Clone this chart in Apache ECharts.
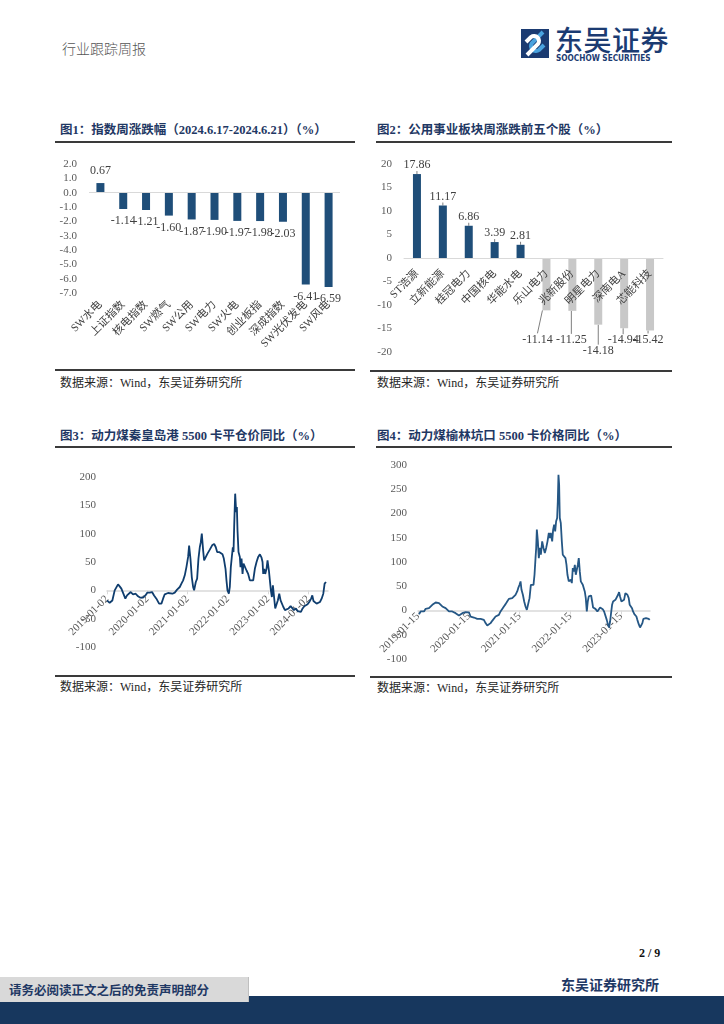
<!DOCTYPE html>
<html><head><meta charset="utf-8">
<script src="https://cdn.jsdelivr.net/npm/echarts@6/dist/echarts.min.js"></script>
<style>
body{margin:0;width:724px;height:1024px;position:relative;background:#fff;overflow:hidden;font-family:"Liberation Serif","Noto Sans CJK SC",serif;}
.abs{position:absolute;white-space:nowrap;}
.title{position:absolute;font-weight:bold;color:#1f3864;font-size:12.5px;white-space:nowrap;line-height:14px;}
.rule{position:absolute;height:2px;background:#3a3a3a;}
.src{position:absolute;font-size:12px;color:#262626;white-space:nowrap;line-height:14px;}
.chart{position:absolute;}
</style></head><body>
<script>
// ---------- data ----------
var cats1 = ['SW水电','上证指数','核电指数','SW燃气','SW公用','SW电力','SW火电','创业板指','深成指数','SW光伏发电','SW风电'];
var vals1 = [0.67,-1.14,-1.21,-1.60,-1.87,-1.90,-1.97,-1.98,-2.03,-6.41,-6.59];

var cats2 = ['ST浩源','立新能源','桂冠电力','中国核电','华能水电','乐山电力','兆新股份','明星电力','深南电A','芯能科技'];
var vals2 = [17.86,11.17,6.86,3.39,2.81,-11.14,-11.25,-14.18,-14.94,-15.42];

var ticks3 = ['2019-01-02','2020-01-02','2021-01-02','2022-01-02','2023-01-02','2024-01-02'];
var yr3 = [2019.000,2019.066,2019.133,2019.191,2019.232,2019.274,2019.315,2019.357,2019.398,2019.456,2019.498,2019.547,2019.589,2019.647,2019.713,2019.771,2019.829,2019.896,2019.954,
2020.003,2020.061,2020.119,2020.169,2020.227,2020.294,2020.352,2020.393,2020.434,2020.476,2020.517,2020.559,2020.625,2020.683,2020.741,2020.808,2020.849,2020.891,2020.932,2020.973,
2021.015,2021.040,2021.073,2021.106,2021.139,2021.164,2021.206,2021.239,2021.272,2021.305,2021.330,2021.355,2021.388,2021.413,2021.454,2021.496,2021.554,2021.612,2021.662,2021.703,2021.736,2021.786,2021.828,2021.869,2021.902,2021.944,2021.968,2021.993,
2022.027,2022.051,2022.076,2022.101,2022.126,2022.143,2022.159,2022.184,2022.209,2022.226,2022.242,2022.267,2022.300,2022.317,2022.342,2022.367,2022.391,2022.425,2022.466,2022.507,2022.549,2022.590,2022.632,2022.673,2022.715,2022.756,2022.798,2022.839,2022.864,2022.881,2022.905,2022.930,2022.963,2022.988,
2023.022,2023.046,2023.071,2023.096,2023.121,2023.146,2023.179,2023.212,2023.245,2023.279,2023.312,2023.345,2023.378,2023.420,2023.461,2023.511,2023.561,2023.602,2023.643,2023.693,2023.735,2023.776,2023.818,2023.859,2023.901,2023.942,2023.983,
2024.025,2024.071,2024.100,2024.129,2024.166,2024.207,2024.249,2024.290,2024.332,2024.373,2024.406,2024.440];
var val3 = [-17.6,-22,-18,0,3,10.6,7,3,0,-14.7,-9,-9,-3,-7,-6,-10.6,-13,-13,-9,
-4,-4,-3,-9,-14.7,-23.5,-23.5,-14.7,-7,-4.7,-4.7,-1.8,-6,-4,1.2,5.9,11.8,17.6,26.5,41,
59,79,56,23.5,5.9,0,14.7,20.6,56,76,85,100,70.6,53,56,64.7,71.8,79.4,82,76,67.6,67.6,64.7,63.5,56,38,17.6,0,
-6,5.9,41,59,76,67.6,112,170.6,138,147,106,67.6,59,41,56,29,47,44,35,29,17.6,14.7,17.6,38,50,59,63.5,57.6,50,29,38,29,38,53,
35,17.6,0,-11.8,8.8,-8.8,-32,-32,-17.6,-6,-17.6,-14.7,-29,-35,-35,-32,-28,-30.6,-35,-32,-36.5,-34,-38,-32,-28,-26.5,-24.7,
-20.6,-14.7,-8.8,-18.8,-22,-23.5,-23.5,-20.6,-14.7,-6,11.8,14.7];

var ticks4 = ['2019-01-15','2020-01-15','2021-01-15','2022-01-15','2023-01-15'];
var yr4 = [2019.020,2019.052,2019.085,2019.118,2019.151,2019.184,2019.216,2019.249,2019.282,2019.315,2019.348,2019.380,2019.413,2019.446,2019.479,2019.511,2019.544,2019.577,2019.610,2019.643,2019.675,2019.708,2019.741,2019.774,2019.807,2019.839,2019.872,2019.905,2019.938,2019.970,
2020.003,2020.036,2020.069,2020.102,2020.134,2020.167,2020.200,2020.233,2020.266,2020.298,2020.331,2020.364,2020.397,2020.430,2020.462,2020.495,2020.528,2020.561,2020.593,2020.626,2020.659,2020.692,2020.725,2020.757,2020.790,2020.823,2020.856,2020.889,2020.921,2020.954,2020.974,
2021.000,2021.020,2021.039,2021.066,2021.092,2021.118,2021.144,2021.170,2021.197,2021.223,2021.249,2021.275,2021.295,2021.315,2021.328,2021.341,2021.361,2021.380,2021.400,2021.420,2021.446,2021.472,2021.498,2021.525,2021.551,2021.577,2021.597,2021.616,2021.643,2021.662,2021.682,2021.702,2021.721,2021.741,2021.754,2021.767,2021.780,2021.793,2021.813,2021.833,2021.852,2021.879,2021.905,2021.925,2021.944,2021.970,2021.990,
2022.010,2022.030,2022.049,2022.069,2022.089,2022.108,2022.128,2022.148,2022.167,2022.187,2022.207,2022.226,2022.246,2022.266,2022.285,2022.305,2022.325,2022.344,2022.364,2022.384,2022.410,2022.430,2022.449,2022.469,2022.495,2022.515,2022.534,2022.561,2022.587,2022.613,2022.639,2022.666,2022.692,2022.718,2022.744,2022.764,2022.784,2022.803,2022.823,2022.843,2022.869,2022.889,2022.915,2022.941,2022.961,2022.980,
2023.007,2023.033,2023.059,2023.085,2023.105,2023.125,2023.151,2023.170,2023.197,2023.216,2023.236,2023.262,2023.282,2023.302,2023.321,2023.348,2023.374,2023.400,2023.420,2023.439,2023.466,2023.492,2023.518,2023.544,2023.564];
var val4 = [-7.6,-2,-5.5,-2,3.4,6.2,4.8,8.3,11.7,13.1,16.5,17.2,15.2,11.7,8.3,6.2,4.8,1.4,-2,-5.5,-2,-4,-5.5,-9,-10.3,-7.6,-5.5,-2,-3.4,0.7,
-4,-12.4,-12.4,-14.5,-14.5,-17.2,-15.8,-17.2,-17.9,-19.3,-26,-31,-29.6,-26,-21.3,-17.2,-12.4,-12.4,-9,-2,1.4,8.3,13.1,18.6,24,25.5,25.5,29,32.4,39.3,46,
53,60,42.7,32.4,18.6,8.3,1.4,4.8,25.5,53,56.5,53,73.7,108,129,166.7,142.6,108,129,115,142.6,129,118.5,129,142.6,159.8,149.4,159.8,142.6,166.7,177,163,184,190.8,225,280,259.6,190.8,180,142.6,115,115,108,94,73.7,60,56.5,
63.4,56.5,87.5,80.6,94,73.7,84,94,108,80.6,60,63.4,53,53,39.3,25.5,-2,18.6,29,32.4,31,18.6,6.2,4.8,3.4,4.8,-2,1.4,6.2,4.8,2.8,-2,-5.5,-19.3,-29.6,-35,-22.7,-5.5,11.7,18.6,17.2,22,25.5,32.4,37.9,29,
18.6,17.2,22,35.8,39.3,32.4,25.5,11.7,8.3,4.8,-2,-7.6,-9,-12.4,-19.3,-28.2,-35,-35,-26,-17.2,-14.5,-15.8,-19.3,-17.2,-19.3];
</script>

<!-- header -->
<div class="abs" style="left:62px;top:38px;font-size:14px;color:#555;font-family:'Noto Sans CJK SC';font-weight:300;">行业跟踪周报</div>
<svg style="position:absolute;left:521px;top:29px" width="28" height="29" viewBox="0 0 28 29">
  <rect width="28" height="29" fill="#1b3b72"/>
  <path d="M22 3 L11 14 A5 5 0 0 0 18 21 L23 16" stroke="#4aa3df" stroke-width="4" fill="none"/>
  <path d="M6 26 L17 15 A5 5 0 0 0 10 8 L5 13" stroke="#ffffff" stroke-width="4" fill="none"/>
</svg>
<div class="abs" style="left:555px;top:23px;font-size:28px;line-height:32px;color:#1b3b72;font-family:'Noto Sans CJK SC';font-weight:500;letter-spacing:0.5px;">东吴证券</div>
<div class="abs" style="left:556px;top:53px;font-size:8.2px;line-height:10px;color:#1b3b72;font-family:'DejaVu Sans Condensed','DejaVu Sans';font-weight:bold;">SOOCHOW SECURITIES</div>

<!-- chart 1 -->
<div class="title" style="left:60px;top:123px;">图1：指数周涨跌幅（2024.6.17-2024.6.21）（%）</div>
<div class="rule" style="left:55px;top:141px;width:300px;"></div>
<div id="c1" class="chart" style="left:55px;top:150px;width:300px;height:218px;"></div>
<div class="rule" style="left:55px;top:369px;width:300px;"></div>
<div class="src" style="left:60px;top:376px;">数据来源：Wind，东吴证券研究所</div>

<!-- chart 2 -->
<div class="title" style="left:377px;top:123px;">图2：公用事业板块周涨跌前五个股（%）</div>
<div class="rule" style="left:376px;top:141px;width:296px;"></div>
<div id="c2" class="chart" style="left:370px;top:150px;width:302px;height:218px;"></div>
<div class="rule" style="left:370px;top:370px;width:302px;"></div>
<div class="src" style="left:377px;top:376px;">数据来源：Wind，东吴证券研究所</div>

<!-- chart 3 -->
<div class="title" style="left:60px;top:429px;">图3：动力煤秦皇岛港 5500 卡平仓价同比（%）</div>
<div class="rule" style="left:55px;top:446px;width:300px;"></div>
<div id="c3" class="chart" style="left:55px;top:455px;width:300px;height:218px;"></div>
<div class="rule" style="left:55px;top:675px;width:300px;"></div>
<div class="src" style="left:60px;top:680px;">数据来源：Wind，东吴证券研究所</div>

<!-- chart 4 -->
<div class="title" style="left:377px;top:429px;">图4：动力煤榆林坑口 5500 卡价格同比（%）</div>
<div class="rule" style="left:376px;top:446px;width:296px;"></div>
<div id="c4" class="chart" style="left:370px;top:455px;width:302px;height:218px;"></div>
<div class="rule" style="left:370px;top:676px;width:302px;"></div>
<div class="src" style="left:377px;top:681px;">数据来源：Wind，东吴证券研究所</div>

<!-- footer -->
<div class="abs" style="left:639px;top:946px;font-size:12px;font-weight:bold;color:#111;">2 / 9</div>
<div class="abs" style="left:561px;top:974px;font-size:14px;font-weight:bold;color:#1f3864;font-family:'Noto Sans CJK SC';">东吴证券研究所</div>
<div class="abs" style="left:0;top:996px;width:724px;height:28px;background:#17375e;"></div>
<div class="abs" style="left:0;top:977px;width:248px;height:25px;background:#d9d9d9;border-right:1px solid #bfbfbf;"></div>
<div class="abs" style="left:9px;top:981px;font-size:12.5px;line-height:17px;font-weight:bold;color:#1f3864;font-family:'Noto Sans CJK SC';">请务必阅读正文之后的免责声明部分</div>

<script>
var FF = "'Liberation Serif', 'Noto Sans CJK SC', serif";
var BLUE = '#1f4e79';
var GRAY = '#c8c8c8';

// move a bottom x axis (line, ticks, labels) up to the y=0 level of its grid
function liftXAxisToZero(chart, ymin){
  var zeroY = chart.convertToPixel({yAxisIndex:0}, 0);
  var bottomY = chart.convertToPixel({yAxisIndex:0}, ymin);
  chart.setOption({xAxis:{offset: -(bottomY - zeroY)}});
}

// chart 1
var ch1 = echarts.init(document.getElementById('c1'));
ch1.setOption({
  animation:false,
  grid:{left:34, top:14, width:251, height:129, outerBoundsMode:'none', containLabel:false},
  xAxis:{type:'category', data:cats1, axisLine:{show:false, onZero:false}, axisTick:{show:false},
    axisLabel:{interval:0, rotate:45, margin:10, fontSize:11, color:'#404040', fontFamily:FF}},
  yAxis:{type:'value', min:-7, max:2, interval:1, axisLine:{show:false}, axisTick:{show:false}, splitLine:{show:false},
    axisLabel:{margin:12, fontSize:11, color:'#595959', fontFamily:FF, formatter:function(v){return v.toFixed(1);}}},
  series:[{type:'bar', barWidth:8,
    data: vals1.map(function(v){return {value:v, label:{position: v>=0?'top':'bottom'}};}),
    itemStyle:{color:BLUE},
    label:{show:true, distance:6, fontSize:12, color:'#404040', fontFamily:FF, formatter:function(p){return p.value.toFixed(2);}},
    markLine:{silent:true, symbol:'none', label:{show:false}, lineStyle:{color:'#d9d9d9', width:1, type:'solid'}, data:[{yAxis:0}]}
  }]
});

// chart 2
var ch2 = echarts.init(document.getElementById('c2'));
var moves2 = {5:[-9,20], 6:[-1,20], 7:[0,17], 8:[-1,3], 9:[-2,0]};
ch2.setOption({
  animation:false,
  grid:{left:34, top:14, width:259, height:188, outerBoundsMode:'none', containLabel:false},
  xAxis:{type:'category', data:cats2, z:10, axisLine:{onZero:false, lineStyle:{color:'#d9d9d9', width:1}}, axisTick:{show:false},
    axisLabel:{interval:0, rotate:45, margin:14, fontSize:11, color:'#404040', fontFamily:FF}},
  yAxis:{type:'value', min:-20, max:20, interval:5, axisLine:{show:false}, axisTick:{show:false}, splitLine:{show:false},
    axisLabel:{margin:12, fontSize:11, color:'#595959', fontFamily:FF}},
  series:[{type:'bar', barWidth:8,
    data: vals2.map(function(v){return {value:v, itemStyle:{color: v>=0?BLUE:GRAY}, label:{position: v>=0?'top':'bottom'}};}),
    label:{show:true, distance:3, fontSize:12, color:'#404040', fontFamily:FF, formatter:function(p){return p.value.toFixed(2);}},
    labelLayout:function(p){var m = moves2[p.dataIndex]; return m ? {dx:m[0], dy:m[1]} : {};},
    labelLine:{show:true, length2:0, lineStyle:{color:'#7f7f7f', width:1}}
  }]
});
liftXAxisToZero(ch2, -20);

function lineOpt(xs, ys, ticks, x0, x1, ymin, ymax, grid, margin){
  grid.outerBoundsMode = 'none';
  grid.containLabel = false;
  return {
    animation:false,
    grid:grid,
    xAxis:{type:'value', min:x0, max:x1, interval:1, splitLine:{show:false},
      axisLine:{onZero:false, lineStyle:{color:'#d9d9d9', width:1.5}},
      axisTick:{show:true, length:4, lineStyle:{color:'#d9d9d9'}},
      axisLabel:{rotate:45, margin:margin, fontSize:11, color:'#595959', fontFamily:FF, showMaxLabel:false,
        formatter:function(v){var i=Math.round(v)-x0; return (Math.abs(v-Math.round(v))<1e-6 && ticks[i]) ? ticks[i] : '';}}},
    yAxis:{type:'value', min:ymin, max:ymax, interval:50, axisLine:{show:false}, axisTick:{show:false}, splitLine:{show:false},
      axisLabel:{margin:11, fontSize:11, color:'#595959', fontFamily:FF}},
    series:[{type:'line', showSymbol:false, symbol:'none',
      data: xs.map(function(x,i){return [x, ys[i]];}),
      lineStyle:{color:'#0f3d6e', width:1.8}}]
  };
}

var ch3 = echarts.init(document.getElementById('c3'));
ch3.setOption(lineOpt(yr3, val3, ticks3, 2019, 2024.49, -100, 200, {left:52, top:22, width:221, height:170}, 7));
liftXAxisToZero(ch3, -100);

var ch4 = echarts.init(document.getElementById('c4'));
var o4 = lineOpt(yr4, val4, ticks4, 2019, 2023.57, -100, 300, {left:48, top:10, width:232, height:194}, 4);
o4.series[0].lineStyle.color = '#255785';
ch4.setOption(o4);
liftXAxisToZero(ch4, -100);
</script>
</body></html>
